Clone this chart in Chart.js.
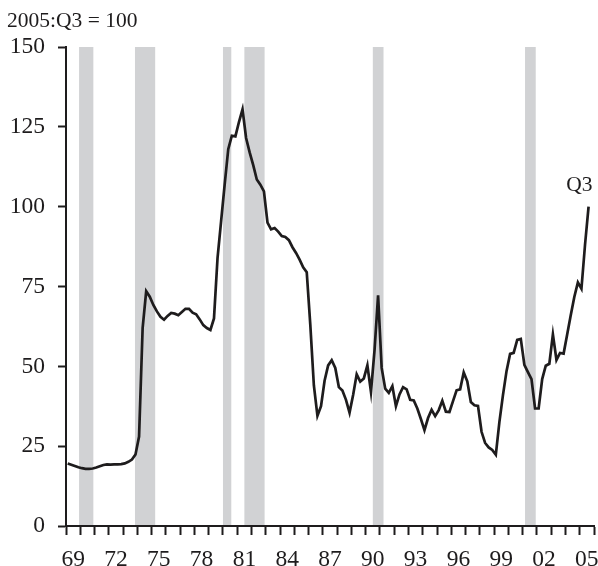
<!DOCTYPE html>
<html><head><meta charset="utf-8">
<script src="https://cdn.jsdelivr.net/npm/chart.js@4/dist/chart.umd.min.js"></script>
<style>html,body{margin:0;padding:0;background:#fff}#wrap{width:598px;height:566px;position:relative}</style>
</head><body><div id="wrap"><canvas id="c" width="598" height="566"></canvas></div>
<script>
// ---- DATA ----
const FIRST_YEAR = 1969;
const oilIndex = [
  19.6, 19.2, 18.8, 18.4, 18.1, 17.9, 17.9, 18.0, 18.3, 18.7, 19.1, 19.3,
  19.2, 19.3, 19.3, 19.4, 19.6, 20.1, 20.8, 22.4, 28.0, 62.0, 73.5, 71.8,
  69.2, 67.2, 65.5, 64.6, 65.8, 66.7, 66.5, 66.0, 67.0, 68.0, 68.0, 66.8,
  66.3, 64.7, 62.9, 62.0, 61.4, 65.0, 84.0, 95.5, 107.0, 118.0, 122.2, 122.0,
  126.5, 130.5, 121.5, 117.0, 113.0, 108.5, 106.9, 104.8, 95.0, 92.9, 93.3, 92.2,
  90.8, 90.5, 89.5, 87.3, 85.5, 83.4, 81.0, 79.5, 63.0, 44.0, 34.5, 37.5,
  45.5, 50.3, 51.9, 49.5, 43.5, 42.4, 39.5, 35.5, 41.0, 47.5, 45.2, 46.2,
  50.3, 42.0, 55.0, 72.2, 49.5, 43.0, 41.7, 43.8, 37.5, 41.2, 43.5, 42.8,
  39.5, 39.3, 36.8, 33.5, 30.0, 33.8, 36.4, 34.4, 36.3, 39.2, 35.8, 35.7,
  39.1, 42.5, 42.8, 48.1, 45.3, 38.8, 37.8, 37.6, 29.5, 26.0, 24.6, 23.8,
  22.3, 32.5, 41.0, 48.5, 53.9, 54.2, 58.3, 58.6, 50.5, 48.2, 46.0, 36.8,
  36.8, 46.0, 50.2, 50.8, 60.0, 52.0, 54.2, 54.0, 60.0, 66.0, 71.7, 76.3,
  74.3, 88.0, 100.0
];
const quarterLabels = [];
for (let i = 0; i < oilIndex.length; i++) {
  quarterLabels.push((FIRST_YEAR + Math.floor(i / 4)) + ':Q' + (i % 4 + 1));
}
const recessionStarts = [1969.917, 1973.833, 1980.0, 1981.5, 1990.5, 2001.167];
const recessionEnds   = [1970.917, 1975.25, 1980.583, 1982.917, 1991.25, 2001.917];
const yTickValues = [0, 25, 50, 75, 100, 125, 150];
const xLabelYears = [1969, 1972, 1975, 1978, 1981, 1984, 1987, 1990, 1993, 1996, 1999, 2002, 2005];
const unitNote = '2005:Q3 = 100';
const endNote = 'Q3';

// ---- helpers ----
function quarterPos(lbl) {
  const [y, q] = lbl.split(':Q');
  return Number(y) + (Number(q) - 1) / 4 + 0.12;
}
const INK = '#1e1c1d';
const FONT = '"Liberation Serif", "Times New Roman", serif';

const recessionPlugin = {
  id: 'recessions',
  beforeDatasetsDraw(chart) {
    const {ctx, scales: {x, y}} = chart;
    const top = y.getPixelForValue(150);
    const bottom = y.getPixelForValue(0) - 1;
    ctx.save();
    ctx.fillStyle = '#d1d2d4';
    for (let i = 0; i < recessionStarts.length; i++) {
      const x1 = x.getPixelForValue(recessionStarts[i]);
      const x2 = x.getPixelForValue(recessionEnds[i]);
      ctx.fillRect(x1, top, x2 - x1, bottom - top);
    }
    ctx.restore();
  }
};

const notesPlugin = {
  id: 'notes',
  afterDraw(chart) {
    const {ctx} = chart;
    const meta = chart.getDatasetMeta(0);
    const last = meta.data[meta.data.length - 1];
    ctx.save();
    ctx.fillStyle = INK;
    ctx.font = '21.5px ' + FONT;
    ctx.textBaseline = 'alphabetic';
    ctx.textAlign = 'left';
    ctx.fillText(unitNote, 7, 27);
    ctx.textAlign = 'right';
    ctx.fillText(endNote, last.x + 4, last.y - 16);
    ctx.restore();
  }
};

new Chart(document.getElementById('c'), {
  type: 'line',
  data: {
    datasets: [{
      data: oilIndex.map((v, i) => ({x: quarterPos(quarterLabels[i]), y: v})),
      borderColor: INK,
      borderWidth: 2.7,
      pointRadius: 0,
      tension: 0,
      fill: false
    }]
  },
  options: {
    responsive: false,
    animation: false,
    devicePixelRatio: 1,
    layout: {padding: {top: 47, right: 4, left: 0, bottom: 0}},
    plugins: {legend: {display: false}, tooltip: {enabled: false}},
    scales: {
      x: {
        type: 'linear',
        min: 1969,
        max: 2006,
        afterBuildTicks(s) {
          const t = [];
          for (let v = 1969; v <= 2006; v += 0.5) t.push({value: v});
          s.ticks = t;
        },
        afterFit(s) { s.height = 40; s.paddingLeft = 0; s.paddingRight = 0; },
        ticks: {
          autoSkip: false,
          maxRotation: 0,
          padding: 11,
          color: INK,
          font: {family: FONT, size: 23.5},
          callback(v) {
            const yr = v - 0.5;
            if (xLabelYears.includes(yr)) return String(yr % 100).padStart(2, '0');
            return '';
          }
        },
        grid: {
          drawOnChartArea: false,
          drawTicks: true,
          tickLength: 9,
          tickWidth: 2,
          tickColor: (c) => Number.isInteger(c.tick.value) ? INK : 'rgba(0,0,0,0)'
        },
        border: {color: INK, width: 2}
      },
      y: {
        min: 0,
        max: 150,
        afterBuildTicks(s) { s.ticks = yTickValues.map(v => ({value: v})); },
        afterFit(s) { s.width = 66; s.paddingTop = 0; s.paddingBottom = 0; },
        ticks: {
          padding: 13,
          color: INK,
          font: {family: FONT, size: 23.5}
        },
        grid: {
          drawOnChartArea: false,
          drawTicks: true,
          tickLength: 8,
          tickWidth: 2,
          tickColor: INK
        },
        border: {color: INK, width: 2}
      }
    }
  },
  plugins: [recessionPlugin, notesPlugin]
});
</script>
</body></html>
